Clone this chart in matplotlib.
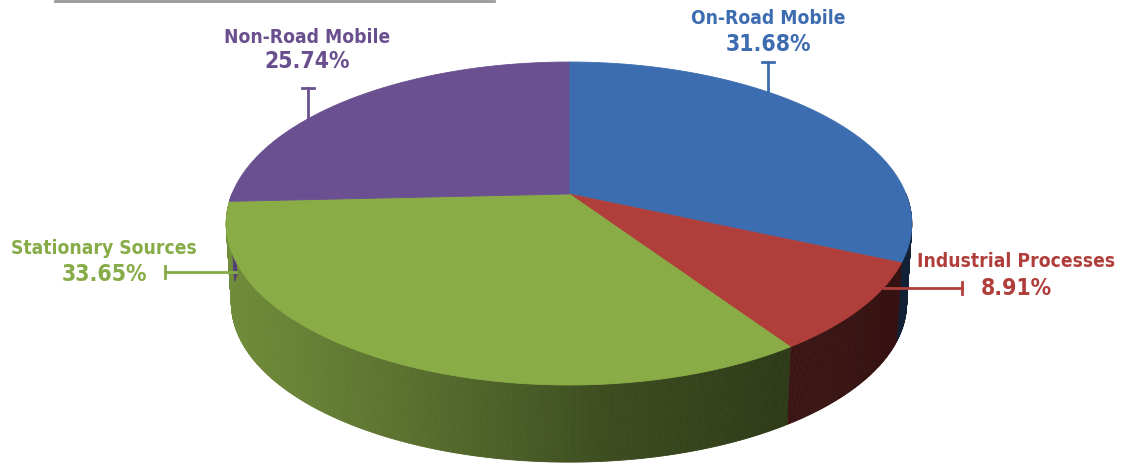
import numpy as np
import matplotlib
matplotlib.use("Agg")
import matplotlib.pyplot as plt
from matplotlib import font_manager
from matplotlib.colors import to_rgb

# data
labels = ['On-Road Mobile', 'Industrial Processes', 'Stationary Sources', 'Non-Road Mobile']
values = [31.68, 8.91, 33.65, 25.74]
colors = ['#3c6db0', '#b03f3b', '#89ac47', '#6a5090']
text_colors = ['#3d6cb0', '#b03f3b', '#86ab47', '#6a4f8f']

# narrow bold font: DejaVu Sans Condensed Bold if its file is there, else Liberation Sans
fp = None
for f in font_manager.fontManager.ttflist:
    if 'DejaVuSansCondensed-Bold.ttf' in f.fname:
        fp = font_manager.FontProperties(fname=f.fname)
        lab_size, pct_size = 13.8, 16.5
        break
if fp is None:
    fp = font_manager.FontProperties(family='Liberation Sans', weight='bold')
    lab_size, pct_size = 13, 16

# pie geometry (pixels), simple perspective of a tilted disc
x0, y0 = 569, 194
A, B, k = 337, 156.1, 0.1827
depth = 80


def project(t, drop=0.0, shrink=1.0):
    # t in degrees, clockwise from 12 o'clock
    r = np.radians(t)
    u, v = np.sin(r), np.cos(r)
    d = 1 + k * v
    x = x0 + shrink * A * u / d
    y = y0 - shrink * B * v / d + drop
    return x, y


def side_factor(x):
    return np.interp(x, [225, 400, 600, 800, 915], [0.82, 0.66, 0.45, 0.33, 0.30])


fig = plt.figure(figsize=(11.3, 4.67), dpi=100)
ax = fig.add_axes([0, 0, 1, 1])
ax.set_xlim(0, 1130)
ax.set_ylim(467, 0)
ax.axis('off')

total = sum(values)
bounds = np.concatenate([[0], np.cumsum(values) / total * 360])

# side walls (front half only: 90..270 degrees)
for i in range(len(values)):
    t0, t1 = max(bounds[i], 90), min(bounds[i + 1], 270)
    if t1 <= t0:
        continue
    ts = np.linspace(t0, t1, int((t1 - t0) * 3) + 2)
    base = np.array(to_rgb(colors[i]))
    for a, b in zip(ts[:-1], ts[1:]):
        xa, ya = project(a)
        xb, yb = project(b)
        xa2, ya2 = project(a, depth, 0.985)
        xb2, yb2 = project(b, depth, 0.985)
        c = np.clip(base * side_factor((xa + xb) / 2), 0, 1)
        ax.fill([xa, xb, xb2, xa2], [ya, yb, yb2, ya2], color=c, lw=0.6, ec=c)

# top faces
for i in range(len(values)):
    ts = np.linspace(bounds[i], bounds[i + 1], 200)
    xs, ys = project(ts)
    xs = np.concatenate([[x0], xs])
    ys = np.concatenate([[y0], ys])
    ax.fill(xs, ys, color=colors[i], lw=0.6, ec=colors[i])

# labels
pos = {
    'On-Road Mobile': (768, 24, 51),
    'Industrial Processes': (1016, 267, 295),
    'Stationary Sources': (104, 254, 281),
    'Non-Road Mobile': (307, 43, 68),
}
for i, lab in enumerate(labels):
    x, yl, yp = pos[lab]
    ax.text(x, yl, lab, color=text_colors[i], fontsize=lab_size,
            fontproperties=fp, ha='center', va='baseline')
    ax.text(x, yp, '%.2f%%' % values[i], color=text_colors[i], fontsize=pct_size,
            fontproperties=fp, ha='center', va='baseline')

# leader lines
lw = 2
ax.plot([768, 768], [62, 93], color=text_colors[0], lw=lw)
ax.plot([762, 774], [62, 62], color=text_colors[0], lw=lw)
ax.plot([884, 962], [288, 288], color=text_colors[1], lw=lw)
ax.plot([962, 962], [282, 294], color=text_colors[1], lw=lw)
ax.plot([165, 236], [272, 272], color=text_colors[2], lw=lw)
ax.plot([165, 165], [266, 278], color=text_colors[2], lw=lw)
ax.plot([308, 308], [88, 118], color=text_colors[3], lw=lw)
ax.plot([302, 314], [88, 88], color=text_colors[3], lw=lw)

# grey rule at the top
ax.plot([55, 494], [1, 1], color='#999999', lw=2)

fig.savefig('out.png', dpi=100)
